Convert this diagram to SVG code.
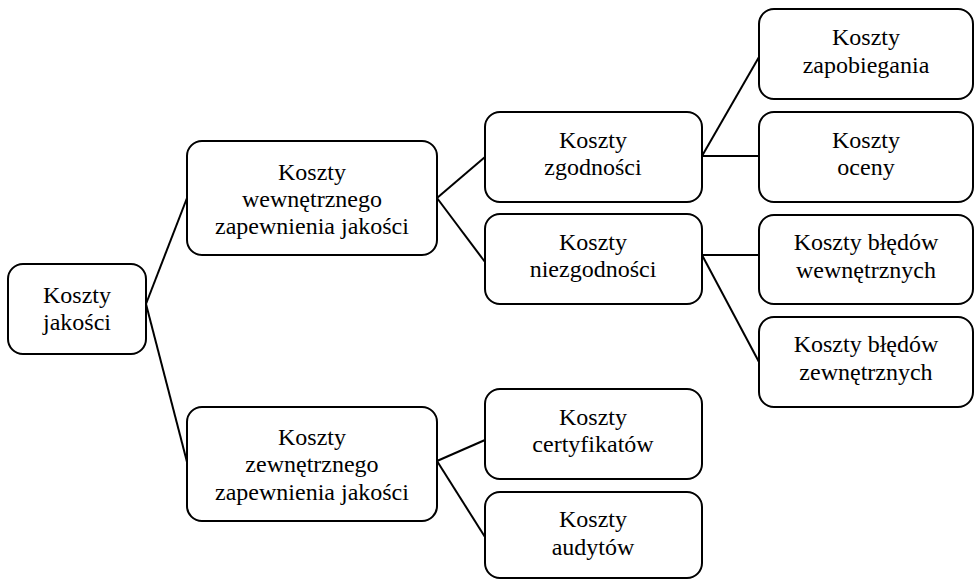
<svg xmlns="http://www.w3.org/2000/svg" width="974" height="580" viewBox="0 0 974 580">
<style>
.box{fill:#fff;stroke:#000;stroke-width:2}
text{font-family:'Liberation Serif','Times New Roman',serif;font-size:24px;fill:#000;text-anchor:middle}
.c{stroke:#000;stroke-width:2;fill:none}
</style>
<rect width="974" height="580" fill="#fff"/>
<g id="connectors">
<line class="c" x1="146" y1="304" x2="187" y2="198"/>
<line class="c" x1="146" y1="304" x2="187" y2="462"/>
<line class="c" x1="437" y1="198" x2="485" y2="157"/>
<line class="c" x1="437" y1="198" x2="485" y2="262"/>
<line class="c" x1="437" y1="461" x2="485" y2="440"/>
<line class="c" x1="437" y1="461" x2="485" y2="537"/>
<line class="c" x1="702" y1="156" x2="759" y2="57"/>
<line class="c" x1="702" y1="156" x2="759" y2="156"/>
<line class="c" x1="702" y1="255" x2="759" y2="255"/>
<line class="c" x1="702" y1="255" x2="759" y2="362"/>
</g>
<g id="n1"><rect class="box" x="8" y="264" width="138" height="90" rx="15"/>
<text x="77" y="303">Koszty</text><text x="77" y="330">jakości</text></g>
<g id="n2"><rect class="box" x="187" y="141" width="250" height="114" rx="15"/>
<text x="312" y="180">Koszty</text><text x="312" y="207">wewnętrznego</text><text x="312" y="234">zapewnienia jakości</text></g>
<g id="n3"><rect class="box" x="187" y="407" width="250" height="114" rx="15"/>
<text x="312" y="445">Koszty</text><text x="312" y="472">zewnętrznego</text><text x="312" y="500">zapewnienia jakości</text></g>
<g id="n4"><rect class="box" x="485" y="112" width="217" height="90" rx="15"/>
<text x="593" y="148">Koszty</text><text x="593" y="175">zgodności</text></g>
<g id="n5"><rect class="box" x="485" y="214" width="217" height="90" rx="15"/>
<text x="593" y="250">Koszty</text><text x="593" y="277">niezgodności</text></g>
<g id="n6"><rect class="box" x="759" y="9" width="214" height="90" rx="15"/>
<text x="866" y="45">Koszty</text><text x="866" y="73">zapobiegania</text></g>
<g id="n7"><rect class="box" x="759" y="112" width="214" height="90" rx="15"/>
<text x="866" y="148">Koszty</text><text x="866" y="175">oceny</text></g>
<g id="n8"><rect class="box" x="759" y="215" width="214" height="89" rx="15"/>
<text x="866" y="250">Koszty błędów</text><text x="866" y="278">wewnętrznych</text></g>
<g id="n9"><rect class="box" x="759" y="317" width="214" height="90" rx="15"/>
<text x="866" y="352">Koszty błędów</text><text x="866" y="380">zewnętrznych</text></g>
<g id="n10"><rect class="box" x="485" y="389" width="217" height="90" rx="15"/>
<text x="593" y="425">Koszty</text><text x="593" y="452">certyfikatów</text></g>
<g id="n11"><rect class="box" x="485" y="492" width="217" height="86" rx="15"/>
<text x="593" y="527">Koszty</text><text x="593" y="555">audytów</text></g>
</svg>
